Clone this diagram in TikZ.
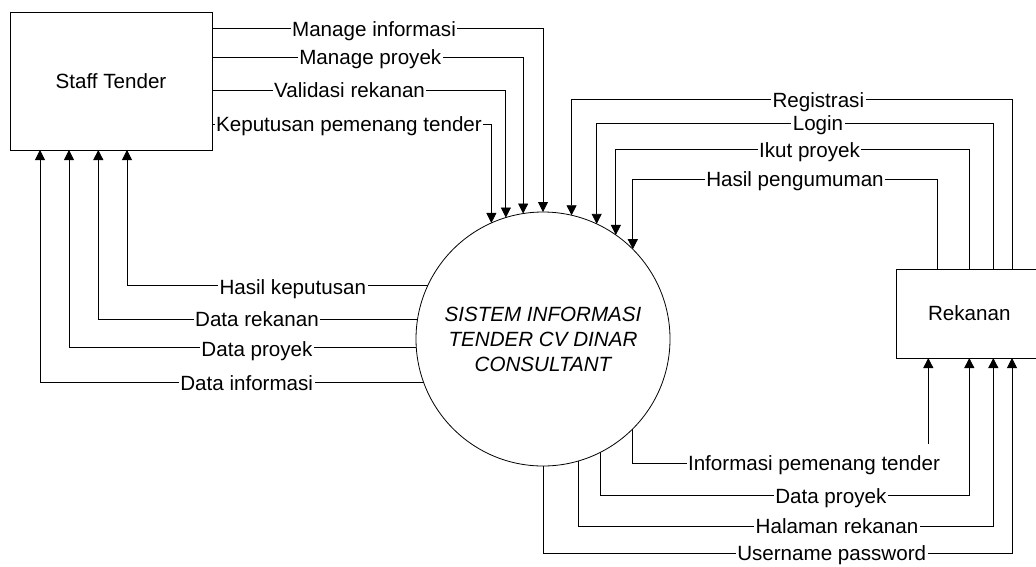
\documentclass[tikz,border=0pt]{standalone}
\usepackage{fontspec}
\setmainfont{Liberation Sans}
\usetikzlibrary{arrows.meta}
\begin{document}
\begin{tikzpicture}[x=1pt,y=-1pt,line width=0.8pt,
  txt/.style={font=\fontsize{20.6}{25}\selectfont},
  flow/.style={draw=black,-{Triangle[width=10pt,length=10pt]}},
  lbl/.style={txt,fill=white,inner xsep=1.5pt,inner ysep=0pt,text height=18.6pt,text depth=4pt},
  lbltall/.style={lbl,inner ysep=1pt,text height=25.6pt,text depth=11pt},
  ent/.style={txt,draw=black,inner sep=0pt,outer sep=0pt}]
\fill[white] (0,0) rectangle (1036,566);
\useasboundingbox (0,0) rectangle (1036,566);

% entities
\node[ent,minimum width=202pt,minimum height=138pt] (st) at (111,81) {Staff Tender};
\node[txt,circle,draw=black,minimum size=254pt,inner sep=0pt,outer sep=0pt,align=center,font=\fontsize{20.6}{25}\selectfont\itshape] (sys) at (543,339) {SISTEM INFORMASI\\TENDER CV DINAR\\CONSULTANT};
\node[txt,inner sep=0pt,outer sep=0pt,minimum width=140pt,minimum height=89pt] (rek) at (966,313.5) {\hspace*{6.6pt}Rekanan};
\draw (rek.north east) -- (rek.north west) -- (rek.south west) -- (rek.south east);

% Staff Tender -> system
\draw[flow] ([yshift=-16.7pt]st.north east) -| (sys.90);
\draw[flow] ([yshift=-45.3pt]st.north east) -| (sys.99.7);
\draw[flow] ([yshift=-78pt]st.north east) -| (sys.107.7);
\draw[flow] ([yshift=-112pt]st.north east) -| (sys.114.5);

% system -> Staff Tender
\draw[flow] (sys.155.8) -| ([xshift=117pt]st.south west);
\draw[flow] (sys.171.2) -| ([xshift=88.3pt]st.south west);
\draw[flow] (sys.184.5) -| ([xshift=59pt]st.south west);
\draw[flow] (sys.200.1) -| ([xshift=30pt]st.south west);

% Rekanan -> system
\draw[flow] ([xshift=116pt]rek.north west) -- ([xshift=116pt,yshift=169.3pt]rek.north west) -| (sys.77.6);
\draw[flow] ([xshift=97.3pt]rek.north west) -- ([xshift=97.3pt,yshift=145.7pt]rek.north west) -| (sys.65);
\draw[flow] ([xshift=73.3pt]rek.north west) -- ([xshift=73.3pt,yshift=119.3pt]rek.north west) -| (sys.55.5);
\draw[flow] ([xshift=41.7pt]rek.north west) -- ([xshift=41.7pt,yshift=89.7pt]rek.north west) -| (sys.45.3);

% system -> Rekanan
\draw[flow] (sys.315.1) |- ([xshift=32.3pt,yshift=-105.3pt]rek.south west) -- ([xshift=32.3pt]rek.south west);
\draw[flow] (sys.297.5) |- ([xshift=73.3pt,yshift=-137.7pt]rek.south west) -- ([xshift=73.3pt]rek.south west);
\draw[flow] (sys.286.6) |- ([xshift=97.3pt,yshift=-168pt]rek.south west) -- ([xshift=97.3pt]rek.south west);
\draw[flow] (sys.270) |- ([xshift=116pt,yshift=-195.5pt]rek.south west) -- ([xshift=116pt]rek.south west);

% labels
\node[lbl] (t1) at (374,28.7) {Manage informasi};
\node[lbl] (t2) at (370.3,57.3) {Manage proyek};
\node[lbl] (t3) at (349.6,90) {Validasi rekanan};
\node[lbl] (t4) at (349,124) {Keputusan pemenang tender};
\node[lbl] (t5) at (292.8,287) {Hasil keputusan};
\node[lbl] (t6) at (257,319.5) {Data rekanan};
\node[lbl] (t7) at (257,349) {Data proyek};
\node[lbl] (t8) at (246.7,382.7) {Data informasi};
\node[lbl] (t9) at (818.3,99.7) {Registrasi};
\node[lbl] (t10) at (818,123.3) {Login};
\node[lbl] (t11) at (809.5,149.7) {Ikut proyek};
\node[lbl] (t12) at (795,179.3) {Hasil pengumuman};
\node[lbltall] (t13) at (814,463.3) {Informasi pemenang tender};
\node[lbl] (t14) at (830.8,495.7) {Data proyek};
\node[lbl] (t15) at (837,526) {Halaman rekanan};
\node[lbl] (t16) at (831.7,553.5) {Username password};
\end{tikzpicture}
\end{document}
